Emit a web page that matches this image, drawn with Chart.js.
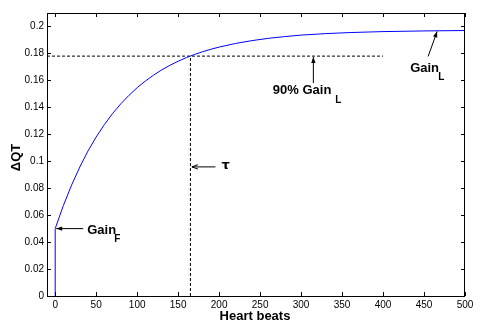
<!DOCTYPE html>
<html><head><meta charset="utf-8">
<script src="https://cdn.jsdelivr.net/npm/chart.js@4/dist/chart.umd.min.js"></script>
<style>html,body{margin:0;padding:0;background:#fff;}</style>
</head><body>
<canvas id="c" width="480" height="327"></canvas>
<script>
// ---- data ----
const beats = [0, 0, 10, 20, 30, 40, 50, 60, 70, 80, 90, 100, 110, 120, 130, 140, 150, 160, 170, 180, 190, 200, 220, 240, 260, 280, 300, 330, 360, 400, 450, 500];
const dQT   = [0, 0.05, 0.0672, 0.0823, 0.0957, 0.1076, 0.1180, 0.1272, 0.1354, 0.1426, 0.1489, 0.1546, 0.1595, 0.1639, 0.1678, 0.1712, 0.1742, 0.1769, 0.1792, 0.1813, 0.1831, 0.1847, 0.1874, 0.1895, 0.1912, 0.1925, 0.1936, 0.1947, 0.1955, 0.1962, 0.1967, 0.1970];
const xTicks = [0, 50, 100, 150, 200, 250, 300, 350, 400, 450, 500];
const yTicks = [0, 0.02, 0.04, 0.06, 0.08, 0.1, 0.12, 0.14, 0.16, 0.18, 0.2];
const tau = 165;          // time constant (beats)
const gain90 = 0.178;     // 90% of Gain_L
const gainF = 0.05;       // initial gain
const gain90End = 400;    // end of the 90% guide line
const xRange = [-10, 500];
const yRange = [0, 0.21];

const FONT = '"Liberation Sans", Arial, Helvetica, sans-serif';

const hLine = [{x: xRange[0], y: gain90}, {x: gain90End, y: gain90}];
const vLine = [{x: tau, y: 0}, {x: tau, y: gain90}];

function arrow(ctx, x1, y1, x2, y2, open) {
  ctx.beginPath(); ctx.moveTo(x1, y1); ctx.lineTo(x2, y2); ctx.stroke();
  const a = Math.atan2(y2 - y1, x2 - x1), L = 6, W = 2.2;
  ctx.beginPath();
  ctx.moveTo(x2 - L*Math.cos(a) + W*Math.sin(a), y2 - L*Math.sin(a) - W*Math.cos(a));
  ctx.lineTo(x2, y2);
  ctx.lineTo(x2 - L*Math.cos(a) - W*Math.sin(a), y2 - L*Math.sin(a) + W*Math.cos(a));
  if (open) { ctx.stroke(); } else { ctx.closePath(); ctx.fill(); }
}
function label(ctx, main, sub, x, y, sx, sy) {
  ctx.font = 'bold 13px ' + FONT; ctx.textAlign = 'left'; ctx.textBaseline = 'alphabetic';
  ctx.fillText(main, x, y);
  if (sub) { ctx.font = 'bold 10px ' + FONT; ctx.fillText(sub, sx, sy); }
}

const frame = {
  id: 'frame',
  afterDraw(chart) {
    const {ctx, chartArea: a, scales: {x, y}} = chart;
    ctx.save();
    ctx.strokeStyle = '#000'; ctx.fillStyle = '#000'; ctx.lineWidth = 1;
    ctx.strokeRect(a.left + 0.5, a.top + 0.5, a.right - a.left - 1, a.bottom - a.top);
    ctx.beginPath();
    xTicks.forEach(v => {
      const p = Math.round(x.getPixelForValue(v)) + 0.5;
      ctx.moveTo(p, a.bottom); ctx.lineTo(p, a.bottom - 4);
      ctx.moveTo(p, a.top); ctx.lineTo(p, a.top + 4);
    });
    yTicks.forEach(v => {
      const p = Math.round(y.getPixelForValue(v)) + 0.5;
      ctx.moveTo(a.left, p); ctx.lineTo(a.left + 4, p);
      ctx.moveTo(a.right, p); ctx.lineTo(a.right - 4, p);
    });
    ctx.stroke();

    // axis titles
    ctx.font = 'bold 13px ' + FONT; ctx.textAlign = 'center'; ctx.textBaseline = 'alphabetic';
    ctx.fillText('Heart beats', (a.left + a.right) / 2 - 1, 320);
    ctx.save(); ctx.translate(20, (a.top + a.bottom) / 2 + 3); ctx.rotate(-Math.PI / 2);
    ctx.fillText('\u0394QT', 0, 0); ctx.restore();

    // Gain_F
    let px = x.getPixelForValue(0), py = y.getPixelForValue(gainF);
    arrow(ctx, px + 28, py, px + 1, py);
    label(ctx, 'Gain', 'F', px + 32, py + 5.5, px + 59, py + 13);

    // tau
    px = x.getPixelForValue(tau); py = y.getPixelForValue(0.0958);
    arrow(ctx, px + 25, py, px + 1.5, py, true);
    ctx.font = 'bold 13px "DejaVu Sans", ' + FONT; ctx.textAlign = 'left';
    ctx.fillText('\u03C4', px + 31, py + 2);

    // 90% Gain_L
    px = x.getPixelForValue(315); py = y.getPixelForValue(gain90);
    arrow(ctx, px, py + 27, px, py + 1);
    label(ctx, '90% Gain', 'L', px - 40.5, py + 38, px + 22, py + 47);

    // Gain_L
    px = x.getPixelForValue(466); py = y.getPixelForValue(0.1967);
    arrow(ctx, px - 9, py + 25.5, px, py + 0.5);
    label(ctx, 'Gain', 'L', px - 27, py + 41, px + 1, py + 49);
    ctx.restore();
  }
};

new Chart(document.getElementById('c'), {
  type: 'scatter',
  data: {
    datasets: [
      { data: beats.map((b, i) => ({x: b, y: dQT[i]})), showLine: true, borderColor: '#0000FF', borderWidth: 1, pointRadius: 0, tension: 0 },
      { data: hLine, showLine: true, borderColor: '#000', borderWidth: 1, borderDash: [3, 2], pointRadius: 0 },
      { data: vLine, showLine: true, borderColor: '#000', borderWidth: 1, borderDash: [3, 2], pointRadius: 0 }
    ]
  },
  plugins: [frame],
  options: {
    responsive: false, animation: false, devicePixelRatio: 1,
    layout: { padding: { left: 0, right: 15, top: 13, bottom: 0 } },
    plugins: { legend: { display: false }, tooltip: { enabled: false } },
    scales: {
      x: {
        type: 'linear', min: xRange[0], max: xRange[1],
        afterBuildTicks: s => { s.ticks = xTicks.map(v => ({value: v})); },
        afterFit: s => { s.height = 31; },
        grid: { display: false, drawTicks: false }, border: { display: false },
        ticks: { autoSkip: false, maxRotation: 0, padding: 3, color: '#000', font: { family: FONT, size: 10 } }
      },
      y: {
        type: 'linear', min: yRange[0], max: yRange[1],
        afterBuildTicks: s => { s.ticks = yTicks.map(v => ({value: v})); },
        afterFit: s => { s.width = 47; },
        grid: { display: false, drawTicks: false }, border: { display: false },
        ticks: { padding: 3, color: '#000', font: { family: FONT, size: 10 }, callback: v => String(+Number(v).toFixed(2)) }
      }
    }
  }
});
</script>
</body></html>
